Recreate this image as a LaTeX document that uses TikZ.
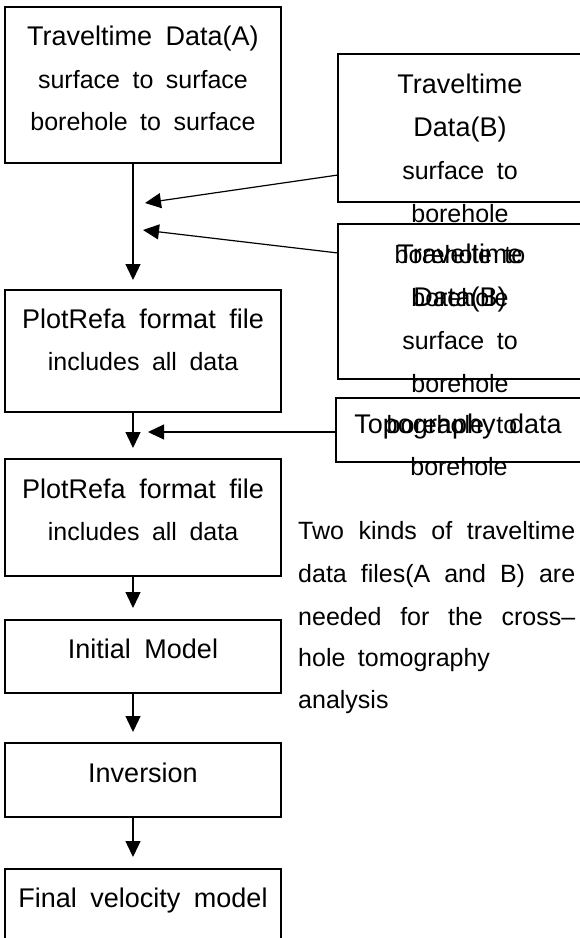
\documentclass[tikz,border=0pt]{standalone}
\usepackage{fontspec}
\setmainfont{Liberation Sans}
\usetikzlibrary{arrows.meta}
\newcommand\myttlfont{\fontsize{27}{32}\selectfont\spaceskip=0.5em plus 0.5em\relax}
\newcommand\mysubfont{\fontsize{25}{30}\selectfont\spaceskip=0.5em plus 0.5em\relax}
\tikzset{
  box/.style={draw, line width=1.6pt, inner sep=0pt, outer sep=0pt, anchor=north west},
  ttl/.style={font=\myttlfont, anchor=base, inner sep=0pt},
  sub/.style={font=\mysubfont, anchor=base, inner sep=0pt},
  para/.style={font=\mysubfont, anchor=base west, inner sep=0pt},
  arr/.style={line width=1.3pt, -{Triangle[length=16pt,width=15pt]}},
}
\begin{document}
\begin{tikzpicture}[x=1pt,y=-1pt]
\useasboundingbox (0,0) rectangle (580,938);
\clip (0,0) rectangle (580,938);

% left column boxes
\node[box, minimum width=276pt, minimum height=156pt] (A) at (5,7) {};
\node[box, minimum width=276pt, minimum height=122pt] (P1) at (5,290) {};
\node[box, minimum width=276pt, minimum height=117pt] (P2) at (5,459) {};
\node[box, minimum width=276pt, minimum height=73pt] (I) at (5,620) {};
\node[box, minimum width=276pt, minimum height=74pt] (V) at (5,743) {};
\node[box, minimum width=276pt, minimum height=80pt] (F) at (5,869) {};

% right column boxes
\node[box, minimum width=248pt, minimum height=148pt] (B1) at (338,54) {};
\node[box, minimum width=248pt, minimum height=155pt] (B2) at (338,224) {};
\node[box, minimum width=250pt, minimum height=64pt] (T) at (336,398) {};

% texts in left boxes
\node[ttl] (tA1) at (143,45) {Traveltime Data(A)};
\node[sub] (tA2) at (143,88) {surface to surface};
\node[sub] (tA3) at (143,130) {borehole to surface};
\node[ttl] (tP11) at (143,328) {PlotRefa format file};
\node[sub] (tP12) at (143,370) {includes all data};
\node[ttl] (tP21) at (143,498) {PlotRefa format file};
\node[sub] (tP22) at (143,540) {includes all data};
\node[ttl] (tI) at (143,658) {Initial Model};
\node[ttl] (tV) at (143,782) {Inversion};
\node[ttl] (tF) at (143,907) {Final velocity model};

% texts in right boxes
\node[ttl] (tB11) at (460,93) {Traveltime};
\node[ttl] (tB12) at (460,136) {Data(B)};
\node[sub] (tB13) at (460,179) {surface to};
\node[sub] (tB14) at (460,222) {borehole};
\node[ttl] (tB21) at (460,263) {Traveltime};
\node[sub] (tB21o) at (460,263) {borehole to};
\node[ttl] (tB22) at (460,306) {Data(B)};
\node[sub] (tB22o) at (460,306) {borehole};
\node[sub] (tB23) at (460,349) {surface to};
\node[sub] (tB24) at (460,392) {borehole};
\node[ttl] (tT1) at (458,433) {Topography data};
\node[sub] (tT1o) at (452,433) {borehole to};
\node[sub] (tT2) at (459,475) {borehole};

% note
\node[para] (n1) at (298,539) {\makebox[277pt][s]{Two kinds of traveltime}};
\node[para] (n2) at (298,582) {\makebox[277pt][s]{data files(A and B) are}};
\node[para] (n3) at (298,625) {\makebox[277pt][s]{needed for the cross–}};
\node[para] (n4) at (298,666) {hole tomography};
\node[para] (n5) at (298,708) {analysis};

% vertical flow arrows
\coordinate (vx) at (133,0);
\draw[arr, shorten >=10pt] (A.south -| vx) -- (P1.north -| vx);
\draw[arr, shorten >=11pt] (P1.south -| vx) -- (P2.north -| vx);
\draw[arr, shorten >=12pt] (P2.south -| vx) -- (I.north -| vx);
\draw[arr, shorten >=11pt] (I.south -| vx) -- (V.north -| vx);
\draw[arr, shorten >=12pt] (V.south -| vx) -- (F.north -| vx);

% side arrows
\coordinate (h1) at (145,203);
\coordinate (h2) at (143,230);
\coordinate (h3) at (148,432);
\draw[arr, line width=1.2pt] ([yshift=27pt]B1.south west) -- (h1);
\draw[arr, line width=1.2pt] ([yshift=-29pt]B2.north west) -- (h2);
\draw[arr, line width=1.2pt] ([yshift=-2pt]T.west) -- (h3);
\end{tikzpicture}
\end{document}
